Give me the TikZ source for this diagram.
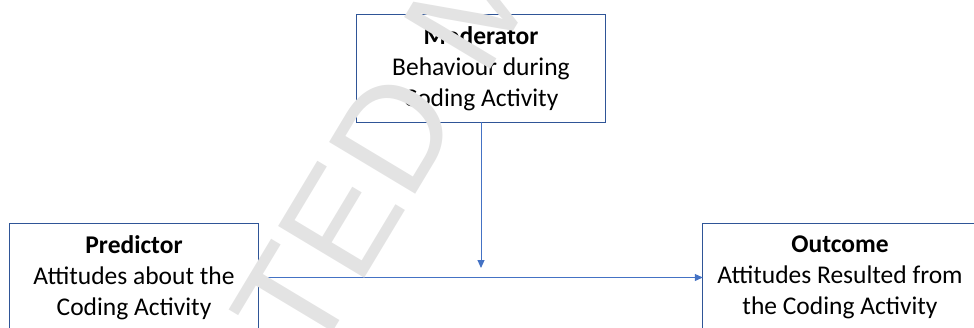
\documentclass[tikz,border=0pt]{standalone}
\usepackage{fontspec}
\setmainfont{Carlito}
\newfontfamily\wmfont{Liberation Sans}
\usetikzlibrary{arrows.meta}
\definecolor{linkblue}{HTML}{4472C4}
\definecolor{edgeblue}{HTML}{2F5597}
\definecolor{wmgray}{HTML}{E3E3E3}
\begin{document}
\begin{tikzpicture}[x=1pt,y=-1pt,
  box/.style={minimum width=248pt, minimum height=107pt, inner sep=0pt,
    align=center, font=\fontsize{25.5}{31}\selectfont, text=black},
  frame/.style={draw=edgeblue, line width=0.9pt},
  link/.style={draw=linkblue, line width=1pt, -{Triangle[length=8pt,width=7pt]}},
  marktext/.style={font=\wmfont\fontsize{146}{146}\selectfont, rotate=59,
    anchor=base, inner sep=0pt, text=wmgray}
]
\useasboundingbox (0,0) rectangle (974,327);
\clip (0,0) rectangle (974,327);

% the three variables
\node[box] (mod) at (481,68.5) {\textbf{Moderator}\\Behaviour during\\Coding Activity};
\node[box] (pred) at (134,277.5) {\textbf{Predictor}\\Attitudes about the\\Coding Activity};
\node[box, minimum width=274pt] (out) at (840,277.5) {\textbf{Outcome}\\Attitudes Resulted from\\the Coding Activity};

% frames and connectors
\draw[frame] (mod.north west) rectangle (mod.south east);
\draw[frame] (pred.north west) rectangle (pred.south east);
\draw[frame] (out.north west) rectangle (out.south east);

\coordinate (join) at (481,268);
\draw[link] (mod.south) -- (join);
\draw[link] (pred.east) -- (out.west);

% watermark laid over everything
\node[marktext] (wm) at (359,288) {\llap{ACCEPT}\rlap{ED MANUSCRIPT}};
\end{tikzpicture}
\end{document}
